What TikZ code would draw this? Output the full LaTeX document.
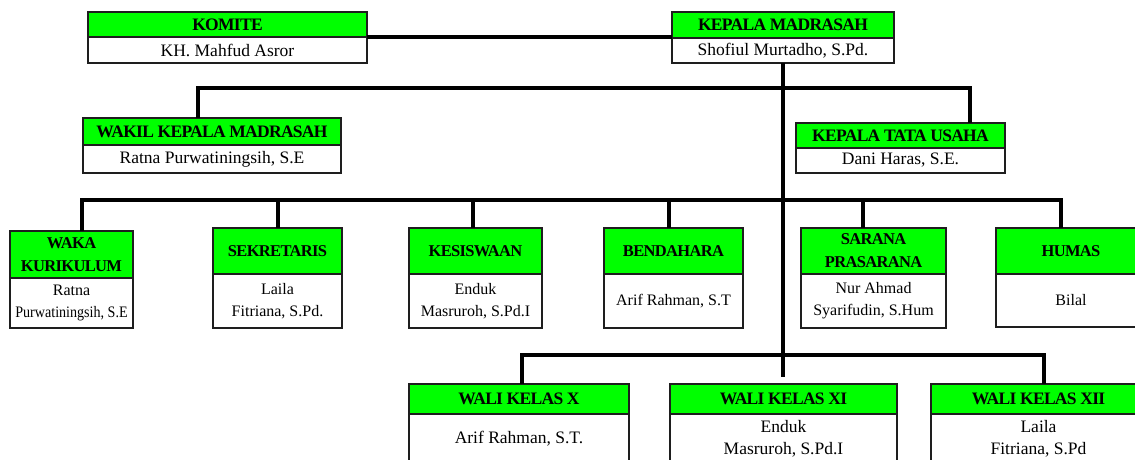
\documentclass[tikz,border=0pt]{standalone}
\usepackage{graphicx}
\usepackage{fontspec}
\setmainfont{Liberation Serif}
\newfontfamily\hdf{Liberation Serif}[LetterSpace=-4]
\definecolor{hdgreen}{RGB}{0,255,0}
\definecolor{bordc}{RGB}{30,30,30}
\newcommand\orgunit[9]{%
  \node[hdbox#1, minimum width=#5pt, minimum height=#6pt, anchor=north west] (#2-h) at (#3,#4) {#8};
  \node[bdbox#1, minimum width=#5pt, minimum height=#7pt, anchor=north] (#2-b) at (#2-h.south) {#9};
}
\begin{document}
\begin{tikzpicture}[x=1pt,y=-1pt,
  boxbase/.style={draw=bordc, line width=1.3pt, inner sep=0pt, outer sep=0pt, align=center},
  hdboxL/.style={boxbase, fill=hdgreen, font=\hdf\bfseries\fontsize{17.5}{22}\selectfont},
  bdboxL/.style={boxbase, fill=white, font=\fontsize{17.5}{22}\selectfont},
  hdboxS/.style={boxbase, fill=hdgreen, font=\hdf\bfseries\fontsize{16.5}{23}\selectfont},
  bdboxS/.style={boxbase, fill=white, font=\fontsize{16}{22}\selectfont},
  conn/.style={draw=black, line width=3.2pt}]
\useasboundingbox (0,0) rectangle (1135,459);
\clip (0,0) rectangle (1135,459);

% connector coordinates
\coordinate (b1l) at (198,88);
\coordinate (b1r) at (970,88);
\coordinate (b2l) at (82,200);
\coordinate (b2r) at (1061,200);
\coordinate (d2) at (278,200);
\coordinate (d3) at (473,200);
\coordinate (d4) at (669,200);
\coordinate (d5) at (863,200);
\coordinate (b3l) at (522,355);
\coordinate (b3r) at (1044,355);
\coordinate (tend) at (783,377);

% top row
\orgunit{L}{kom}{88}{12}{279}{25}{26}{KOMITE}{KH. Mahfud Asror}
\orgunit{L}{kep}{672}{12}{222}{26}{25}{KEPALA MADRASAH}{Shofiul Murtadho, S.Pd.}
% second row
\orgunit{L}{wak}{83}{118}{258}{27}{28}{WAKIL KEPALA MADRASAH}{Ratna Purwatiningsih, S.E}
\orgunit{L}{ktu}{796}{123}{209}{25}{25}{KEPALA TATA USAHA}{Dani Haras, S.E.}
% third row
\orgunit{S}{waka}{10}{231}{123}{47}{50}{WAKA\\KURIKULUM}{Ratna\\\scalebox{0.88}[1]{Purwatiningsih, S.E}}
\orgunit{S}{sek}{213}{228}{129}{46}{54}{SEKRETARIS}{Laila\\Fitriana, S.Pd.}
\orgunit{S}{kes}{409}{228}{133}{46}{54}{KESISWAAN}{Enduk\\Masruroh, S.Pd.I}
\orgunit{S}{ben}{604}{228}{139}{46}{54}{BENDAHARA}{Arif Rahman, S.T}
\orgunit{S}{sar}{801}{228}{145}{46}{54}{SARANA\\PRASARANA}{Nur Ahmad\\Syarifudin, S.Hum}
\orgunit{S}{hum}{996}{228}{150}{46}{53}{HUMAS}{Bilal}
% wali kelas
\orgunit{L}{wx}{409}{384}{220}{30}{50}{WALI KELAS X}{Arif Rahman, S.T.}
\orgunit{L}{wxi}{670}{384}{227}{30}{50}{WALI KELAS XI}{Enduk\\Masruroh, S.Pd.I}
\orgunit{L}{wxii}{931}{384}{215}{30}{50}{WALI KELAS XII}{Laila\\Fitriana, S.Pd}

% connectors
\draw[conn] (kom-h.south east) -- (kom-h.south east -| kep-h.west);
\draw[conn] (kep-b.south) -- (tend);
\draw[conn] (wak-h.north -| b1l) -- (b1l) -- (b1r) -- (ktu-h.north -| b1r);
\draw[conn] (waka-h.north -| b2l) -- (b2l) -- (b2r) -- (hum-h.north -| b2r);
\draw[conn] (d2) -- (sek-h.north -| d2);
\draw[conn] (d3) -- (kes-h.north -| d3);
\draw[conn] (d4) -- (ben-h.north -| d4);
\draw[conn] (d5) -- (sar-h.north -| d5);
\draw[conn] (wx-h.north -| b3l) -- (b3l) -- (b3r) -- (wxii-h.north -| b3r);
\end{tikzpicture}
\end{document}
